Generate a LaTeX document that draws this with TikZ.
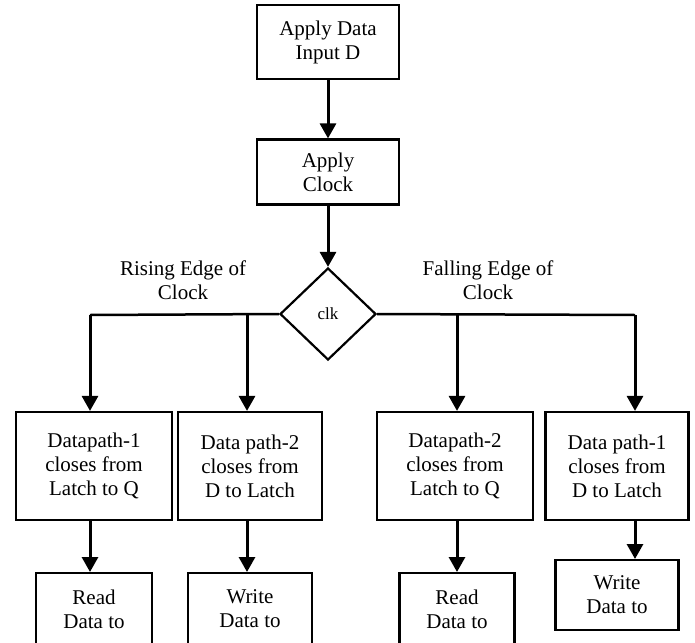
\documentclass[tikz,border=0pt]{standalone}
\usepackage{fontspec}
\setmainfont{Liberation Serif}
\usetikzlibrary{shapes.geometric,arrows.meta}
\newcommand{\stepnode}{\node[draw,line width=2.2pt,align=center,inner sep=0pt]}
\newcommand{\decnode}{\node[diamond,draw,line width=2.2pt,inner sep=0pt,minimum width=96pt,minimum height=92pt,font=\fontsize{17}{19}\selectfont]}
\newcommand{\txtnode}{\node[align=center]}

\begin{document}
\begin{tikzpicture}[x=1pt,y=-1pt,font=\fontsize{21}{24}\selectfont,
  flow/.style={line width=3pt,-{Triangle[length=15pt,width=16pt]}},
  link/.style={line width=2.5pt}]
      \useasboundingbox (0,0) rectangle (695,642);
      \clip (0,0) rectangle (695,642);
      \stepnode[minimum width=142pt,minimum height=74pt] (data) at (328,42) {Apply Data\\Input D}; % input
      \stepnode[minimum width=142pt,minimum height=65pt] (clock) at (328,172) {Apply\\Clock}; % clock
      \decnode (clk) at (328,314) {clk}; % decision
      \txtnode (rise) at (183,280) {Rising Edge of\\Clock};
      \txtnode (fall) at (488,280) {Falling Edge of\\Clock};
      %%%% branch points
      \coordinate (riseA) at (90,315);
      \coordinate (riseB) at (247,315);
      \coordinate (fallA) at (457,315);
      \coordinate (fallB) at (635,315);
      %%%% data path boxes
      \stepnode[minimum width=156pt,minimum height=108pt] (dpA) at (94,466) {Datapath-1\\closes from\\Latch to Q};
      \stepnode[minimum width=144pt,minimum height=108pt] (dpB) at (250,466) {Data path-2\\closes from\\D to Latch};
      \stepnode[minimum width=156pt,minimum height=108pt] (dpC) at (455,466) {Datapath-2\\closes from\\Latch to Q};
      \stepnode[minimum width=143pt,minimum height=108pt] (dpD) at (617,466) {Data path-1\\closes from\\D to Latch};
      %%%% last row
      \stepnode[minimum width=116pt,minimum height=72pt,anchor=north] (readA) at (94,572) {Read\\Data to};
      \stepnode[minimum width=124pt,minimum height=72pt,anchor=north] (writeB) at (250,572) {Write\\Data to};
      \stepnode[minimum width=115pt,minimum height=72pt,anchor=north] (readC) at (457,572) {Read\\Data to};
      \stepnode[minimum width=123pt,minimum height=70pt,anchor=north] (writeD) at (617,559) {Write\\Data to};
      %%%% graph links
      \draw[flow] (data) -- (clock);
      \draw[flow] (clock) -- (clk);
      \draw[link] (clk.west) -- (riseA);
      \draw[link] (clk.east) -- (fallB);
      \draw[flow] (riseA) -- (riseA |- dpA.north);
      \draw[flow] (riseB) -- (riseB |- dpB.north);
      \draw[flow] (fallA) -- (fallA |- dpC.north);
      \draw[flow] (fallB) -- (fallB |- dpD.north);
      \draw[flow] (riseA |- dpA.south) -- (riseA |- readA.north);
      \draw[flow] (riseB |- dpB.south) -- (riseB |- writeB.north);
      \draw[flow] (fallA |- dpC.south) -- (fallA |- readC.north);
      \draw[flow] (fallB |- dpD.south) -- (fallB |- writeD.north);
\end{tikzpicture}
\end{document}
